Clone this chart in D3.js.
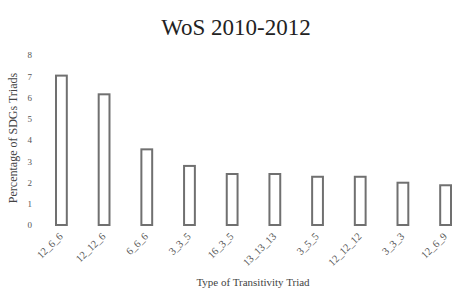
<!DOCTYPE html>
<html>
<head>
<meta charset="utf-8">
<script src="https://cdn.jsdelivr.net/npm/d3@7"></script>
<style>
  body { margin: 0; background: #fff; }
  text { font-family: "Liberation Serif", "Times New Roman", serif; }
</style>
</head>
<body>
<script>
var width = 456;
var height = 288;

// triad types and their share (%)
var triads = ["12_6_6", "12_12_6", "6_6_6", "3_3_5", "16_3_5", "13_13_13", "3_5_5", "12_12_12", "3_3_3", "12_6_9"];
var percents = [7.03, 6.15, 3.56, 2.78, 2.4, 2.4, 2.27, 2.27, 1.99, 1.87];
var yTicks = [0, 1, 2, 3, 4, 5, 6, 7, 8];

var svg = d3.select("body").append("svg").attr("width", width).attr("height", height);

var x = d3.scaleBand()
    .domain(triads)
    .range([55, 452])
    .paddingInner(0.7)
    .paddingOuter(0);

var y = d3.scaleLinear()
    .domain([0, 8])
    .range([225, 55]);

// title
svg.append("text")
    .attr("x", 236)
    .attr("y", 35)
    .attr("text-anchor", "middle")
    .attr("font-size", "23px")
    .attr("fill", "#222")
    .text("WoS 2010-2012");

// y axis (labels only)
var yAxis = svg.append("g")
    .attr("transform", "translate(32,0)")
    .call(d3.axisLeft(y).tickValues(yTicks).tickSize(0).tickPadding(0))
    .attr("font-family", "Liberation Serif, serif");
yAxis.select(".domain").remove();
yAxis.selectAll("text")
    .attr("font-size", "9px")
    .attr("fill", "#555");

svg.append("text")
    .attr("transform", "translate(17,138) rotate(-90)")
    .attr("text-anchor", "middle")
    .attr("font-size", "12px")
    .attr("fill", "#444")
    .text("Percentage of SDGs Triads");

// bars
svg.append("g")
    .selectAll("rect")
    .data(triads)
    .enter().append("rect")
    .attr("x", function (d) { return x(d) + 1; })
    .attr("y", function (d, i) { return y(percents[i]); })
    .attr("width", x.bandwidth() - 2)
    .attr("height", function (d, i) { return y(0) - y(percents[i]); })
    .attr("fill", "#fff")
    .attr("stroke", "#707070")
    .attr("stroke-width", 2);

// x labels
svg.append("g")
    .selectAll("text")
    .data(triads)
    .enter().append("text")
    .attr("transform", function (d) {
        return "translate(" + (x(d) + x.bandwidth() / 2 + 2) + ",237) rotate(-45)";
    })
    .attr("text-anchor", "end")
    .attr("font-size", "10.5px")
    .attr("fill", "#555")
    .text(function (d) { return d; });

svg.append("text")
    .attr("x", 253)
    .attr("y", 286)
    .attr("text-anchor", "middle")
    .attr("font-size", "11px")
    .attr("fill", "#444")
    .text("Type of Transitivity  Triad");
</script>
</body>
</html>
